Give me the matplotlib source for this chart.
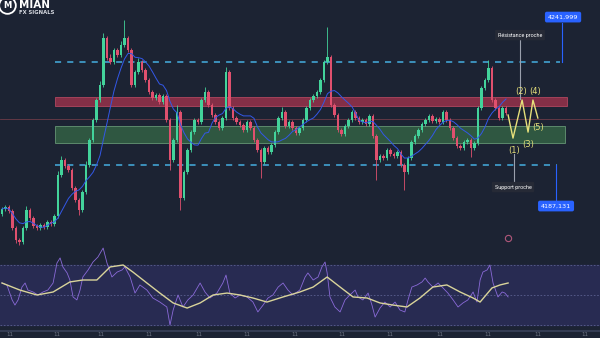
import numpy as np
import pandas as pd
import matplotlib
matplotlib.use("Agg")
from matplotlib import pyplot as plt

# Candle closes (price) left to right
closes = [
    4163.6, 4164.7, 4162.5, 4153.5, 4147.1, 4146.0, 4153.5, 4163.1, 4158.8, 4154.5,
    4153.5, 4155.1, 4154.0, 4156.7, 4155.6, 4159.9, 4181.7, 4189.7, 4186.5, 4184.4,
    4174.8, 4168.4, 4163.1, 4172.7, 4187.1, 4200.4, 4211.0, 4221.7, 4229.7, 4254.7,
    4244.1, 4242.0, 4248.3, 4245.7, 4251.0, 4254.7, 4248.3, 4229.7, 4236.6, 4242.0,
    4237.7, 4232.4, 4226.0, 4222.8, 4224.4, 4220.6, 4223.8, 4211.0, 4189.7, 4200.4,
    4215.3, 4169.5, 4183.3, 4195.0, 4204.6, 4211.0, 4210.0, 4221.7, 4226.0, 4219.0,
    4213.7, 4210.0, 4206.8, 4212.1, 4236.6, 4217.4, 4212.1, 4210.0, 4208.4, 4205.7,
    4210.0, 4206.8, 4200.4, 4195.0, 4188.7, 4196.1, 4194.0, 4197.7, 4204.6, 4212.1,
    4215.3, 4207.8, 4210.0, 4206.8, 4204.1, 4206.8, 4211.0, 4217.4, 4221.7, 4223.8,
    4226.0, 4232.4, 4242.0, 4244.6, 4219.0, 4213.7, 4205.7, 4203.6, 4207.8, 4211.0,
    4215.3, 4212.1, 4210.0, 4211.0, 4208.9, 4213.2, 4202.5, 4189.7, 4191.9, 4190.8,
    4195.0, 4192.9, 4191.9, 4194.0, 4187.1, 4183.3, 4190.8, 4199.3, 4202.5, 4205.7,
    4208.9, 4211.0, 4213.2, 4210.5, 4211.6, 4210.0, 4215.3, 4211.0, 4206.8, 4201.4,
    4197.2, 4196.1, 4199.3, 4200.4, 4196.1, 4198.8, 4217.4, 4228.1, 4232.4, 4238.8,
    4221.7, 4217.4, 4212.1, 4217.4, 4214.8,
]
first_open = 4161.0

# wick lengths above / below the body
wick_up = [
    1, 1, 1, 1, 1, 1, 1, 2, 1, 1,
    1, 1, 1, 1, 1, 1, 2, 2, 1, 1,
    1, 1, 1, 1, 2, 1, 1, 1, 2, 2.5,
    1, 2, 1, 1, 2, 9.6, 1, 1, 1, 2,
    1, 1, 1, 1, 1, 1, 1, 1, 1, 1,
    3.7, 1, 1, 1, 1, 1, 1, 1, 2.5, 1,
    1, 1, 1, 1, 2.7, 1, 1, 1, 1, 1,
    1, 1, 1, 1, 1, 1, 1, 1, 1, 1,
    2.5, 1, 1, 1, 1, 1, 1, 1, 1, 1,
    1, 1, 1, 16, 1, 1, 1, 1, 1, 1,
    1, 1, 1, 1, 1, 1, 1, 1, 1, 1,
    1, 1, 1, 1, 1, 1, 1, 1, 1, 1,
    1, 1, 1, 1, 1, 1, 1, 1, 1, 1,
    1, 1, 1, 1, 1, 1, 1, 1, 1, 4.3,
    1, 1, 1, 1, 1,
]
wick_dn = [
    1, 1, 1, 1, 1.6, 1.5, 1, 1, 1, 1,
    1, 1, 1, 1, 1, 1, 1, 1, 1, 1,
    1, 1, 2.7, 1, 1, 1, 1, 1, 1, 1,
    1, 1, 1, 1, 1, 1, 1, 1, 1, 1,
    1, 1, 1, 1, 1, 1, 1, 1, 5.3, 1,
    1, 6.4, 1, 1, 1, 1, 1, 1, 1, 1,
    1, 1, 1, 1, 1, 1, 1, 1, 1, 1,
    1, 1, 1, 1, 8.5, 1, 1, 1, 1, 1,
    1, 1, 1, 1, 1, 1, 1, 1, 1, 1,
    1, 1, 1, 1, 1, 1, 1, 1, 1, 1,
    1, 1, 1, 1, 1, 1, 1, 10.7, 1, 1,
    1, 1, 1, 1, 1, 9.6, 1, 1, 1, 1,
    1, 1, 1, 1, 1, 1, 1, 1, 1, 1,
    1, 1, 1, 1, 4.8, 1, 1, 1, 1, 1,
    1, 1, 1, 1, 1,
]

# RSI line (candle index, value) and its moving average
rsi_x = [0, 1.4, 2.9, 3.7, 4.6, 5.7, 6.6, 7.4, 8.9, 10.3, 11.7, 13.1, 14.6, 15.7,
         16.6, 17.4, 18.6, 19.4, 20.3, 21.4, 22.3, 23.1, 24.6, 26.0, 27.4, 28.9,
         30.0, 31.4, 32.9, 34.3, 35.1, 36.6, 38.0, 39.4, 41.4, 43.1, 45.1, 47.1,
         48.0, 48.9, 50.3, 51.7, 53.1, 54.6, 56.6, 58.0, 59.4, 61.4, 63.1, 64.0,
         65.1, 66.6, 68.0, 70.0, 71.7, 73.1, 74.6, 76.0, 77.4, 78.9, 80.3, 81.7,
         83.1, 85.1, 86.6, 87.4, 88.9, 90.3, 91.4, 92.3, 92.9, 93.7, 95.1, 96.6,
         98.0, 99.4, 100.9, 101.7, 103.1, 104.6, 105.7, 106.6, 108.0, 109.4, 110.9,
         112.3, 113.7, 115.1, 116.0, 117.1, 118.6, 120.0, 120.9, 121.7, 123.1,
         124.6, 126.0, 127.4, 128.9, 130.3, 131.7, 133.1, 134.6, 135.7, 136.6,
         137.4, 138.6, 139.4, 140.3, 141.7, 142.9, 143.7, 144.6]
rsi_vals = [58.0, 56.7, 46.7, 43.3, 46.7, 55.3, 58.0, 53.3, 52.0, 50.0, 52.0, 53.3,
            58.0, 71.3, 74.7, 68.7, 64.7, 60.0, 48.7, 46.7, 53.3, 62.0, 66.7, 72.0,
            75.3, 81.3, 71.3, 62.0, 65.3, 66.7, 68.7, 62.0, 51.3, 56.7, 53.3, 48.0,
            45.3, 42.0, 30.0, 40.0, 50.0, 42.0, 46.7, 50.0, 58.0, 52.0, 48.0, 51.3,
            58.0, 63.3, 51.3, 48.0, 50.0, 48.7, 45.3, 38.7, 43.3, 48.0, 50.0, 55.3,
            58.0, 53.3, 50.0, 53.3, 62.0, 64.7, 60.0, 62.0, 68.7, 72.0, 64.7, 48.7,
            42.0, 38.7, 46.7, 50.0, 53.3, 48.7, 46.7, 51.3, 43.3, 35.3, 41.3, 45.3,
            42.0, 45.3, 40.0, 38.7, 46.7, 55.3, 56.7, 58.7, 61.3, 58.7, 55.3, 58.0,
            54.7, 51.3, 46.7, 42.0, 44.7, 46.7, 52.0, 45.3, 60.0, 65.3, 66.7, 70.0,
            58.0, 48.7, 52.0, 51.3, 48.7]
rsi_ma_x = [0, 5.1, 10.0, 14.6, 19.4, 23.1, 27.1, 30.9, 34.6, 37.4, 41.4, 45.1,
            48.9, 52.9, 56.6, 60.3, 64.3, 68.0, 71.7, 75.7, 80.3, 85.1, 88.9, 92.9,
            96.6, 100.3, 104.3, 108.0, 111.7, 115.7, 119.4, 123.1, 127.1, 130.9,
            134.6, 136.6, 140.0, 142.3, 144.6]
rsi_ma_vals = [58.0, 53.3, 50.0, 52.0, 58.7, 60.0, 60.0, 68.7, 70.0, 65.3, 58.0,
               51.3, 44.7, 41.3, 44.7, 50.0, 51.3, 50.0, 48.0, 45.3, 48.7, 52.0,
               55.3, 62.0, 55.3, 48.7, 48.0, 44.7, 43.3, 42.0, 48.0, 55.3, 56.7,
               52.0, 48.0, 45.3, 54.7, 56.7, 58.0]

resistance = 4241.999
support = 4187.131
red_zone = (4218.5, 4223.3)
green_zone = (4198.8, 4207.8)
last_line = 4211.6

# projected wave (candle index, price) and its labels
wave_x = [144.6, 146.0, 148.6, 150.3, 151.7, 153.1]
wave_p = [4213.7, 4201.4, 4221.7, 4204.6, 4221.7, 4212.1]
wave_labels = ["(1)", "(2)", "(3)", "(4)", "(5)"]
wave_label_pos = [(146.3, 4195.0), (148.3, 4226.0), (150.3, 4198.2),
                  (152.3, 4226.5), (153.1, 4206.8)]

bg = "#1c2333"
green = "#43d39b"
red = "#e0506e"

opens = [first_open] + closes[:-1]
df = pd.DataFrame({"open": opens, "close": closes})
df["high"] = df[["open", "close"]].max(axis=1) + np.array(wick_up)
df["low"] = df[["open", "close"]].min(axis=1) - np.array(wick_dn)
idx = np.arange(len(df))
up = df["close"] >= df["open"]
colors = np.where(up, green, red)

ma = df["close"].rolling(9, min_periods=1).mean()

fig = plt.figure(figsize=(6, 3.38), dpi=100)
fig.patch.set_facecolor(bg)

W, H = 600, 338
xlim = (-2 / 3.5, 598 / 3.5)

ax = fig.add_axes([0, (H - 258) / H, 1, 258 / H])
ax.set_facecolor("none")
ax.set_xlim(*xlim)
ax.set_ylim(4137.5, 4275.0)
ax.axis("off")

# zones and levels
z0, z1 = 15.1, 161.4
ax.fill_between([z0, z1], red_zone[0], red_zone[1], color="#a8344f", alpha=0.75,
                edgecolor="#d0506a", lw=0.6, zorder=1)
ax.fill_between([z0, 160.9], green_zone[0], green_zone[1], color="#3d7a4c", alpha=0.6,
                edgecolor="#8fd09a", lw=0.6, zorder=1)
ax.axhline(last_line, color="#6e3b48", lw=0.6, zorder=0.5)
ax.plot([z0, 159.4], [resistance, resistance], color="#45aee0", lw=1.1,
        dashes=(4, 4), zorder=2)
ax.plot([z0, 158.6], [support, support], color="#45aee0", lw=1.1,
        dashes=(4, 4), zorder=2)

# candles
ax.vlines(idx, df["low"], df["high"], colors=colors, lw=0.6, zorder=3)
ax.bar(idx, (df["close"] - df["open"]).abs().clip(lower=0.3),
       bottom=df[["open", "close"]].min(axis=1), width=0.62, color=colors,
       lw=0, zorder=4)
ax.plot(idx, ma, color="#3358e8", lw=0.7, zorder=5)

# wave projection
ax.plot(wave_x, wave_p, color="#e6e07a", lw=1.0, zorder=6)
for lab, (wx, wp) in zip(wave_labels, wave_label_pos):
    ax.text(wx, wp, lab, color="#e6e07a", fontsize=6, ha="center", va="center",
            zorder=7)

# price tags
ax.plot([160.0, 160.0], [resistance, 4262.5], color="#2962ff", lw=0.8, zorder=6)
ax.text(160.3, 4265.9, "4241,999", color="white", fontsize=4.6, ha="center",
        va="center", zorder=8,
        bbox=dict(boxstyle="round,pad=0.45,rounding_size=0.3", fc="#2962ff", ec="none"))
ax.plot([158.3, 158.3], [support, 4168.4], color="#2962ff", lw=0.8, zorder=6)
ax.text(158.3, 4165.2, "4187,131", color="white", fontsize=4.6, ha="center",
        va="center", zorder=8,
        bbox=dict(boxstyle="round,pad=0.45,rounding_size=0.3", fc="#2962ff", ec="none"))

ax.plot([148.0, 148.0], [4253.7, 4222.5], color="#9aa0ad", lw=0.8, zorder=6)
ax.text(148.0, 4256.3, "Résistance proche", color="white", fontsize=3.9,
        family="Roboto", ha="center", va="center", zorder=8,
        bbox=dict(boxstyle="round,pad=0.5,rounding_size=0.2", fc="#262a36", ec="none"))
ax.plot([146.3, 146.3], [4193.0, 4177.5], color="#9aa0ad", lw=0.8, zorder=6)
ax.text(146.0, 4175.3, "Support proche", color="white", fontsize=3.9,
        family="Roboto", ha="center", va="center", zorder=8,
        bbox=dict(boxstyle="round,pad=0.5,rounding_size=0.2", fc="#262a36", ec="none"))

# RSI panel
rx = fig.add_axes([0, (H - 330) / H, 1, 88 / H])
rx.set_facecolor("none")
rx.set_xlim(*xlim)
rx.set_ylim(26.67, 85.33)
rx.axis("off")
rx.axhspan(30, 70, color="#282b52", zorder=0)
for lvl in (30, 50, 70):
    rx.axhline(lvl, color="#5b6090", lw=0.6, ls=(0, (2, 2)), zorder=1)
rx.plot(rsi_x, rsi_vals, color="#8a6ad8", lw=0.6, zorder=2)
rx.plot(rsi_ma_x, rsi_ma_vals, color="#d9d49a", lw=1.0, zorder=3)

# bottom time strip
fig.add_artist(plt.Line2D([0, 1], [(H - 330.5) / H] * 2, color="#39425a", lw=1.2))
for tx in [10, 57, 101, 149, 199, 247, 295, 342, 390, 440, 488, 538, 585]:
    fig.text(tx / W, (H - 337.5) / H, "11", color="#6f7585", fontsize=4.0,
             ha="center", va="bottom")

# small marker near the RSI panel
fig.add_artist(plt.Line2D([508 / W], [(H - 238) / H], marker="o", ms=4.5,
                          mfc="none", mec="#b0577a", mew=0.8))

# logo
fig.add_artist(plt.Line2D([7 / W], [(H - 5) / H], marker="o", ms=12, mfc="none",
                          mec="white", mew=1.3))
fig.text(7.5 / W, (H - 5) / H, "M", color="white", fontsize=6, weight="bold",
         ha="center", va="center")
fig.text(19 / W, (H - 5) / H, "MIAN", color="white", fontsize=7.5, weight="bold",
         ha="left", va="center")
fig.text(19 / W, (H - 12.5) / H, "FX SIGNALS", color="#d8dbe2", fontsize=3.8,
         weight="bold", ha="left", va="center")

fig.savefig("out.png", dpi=100, facecolor=bg)
